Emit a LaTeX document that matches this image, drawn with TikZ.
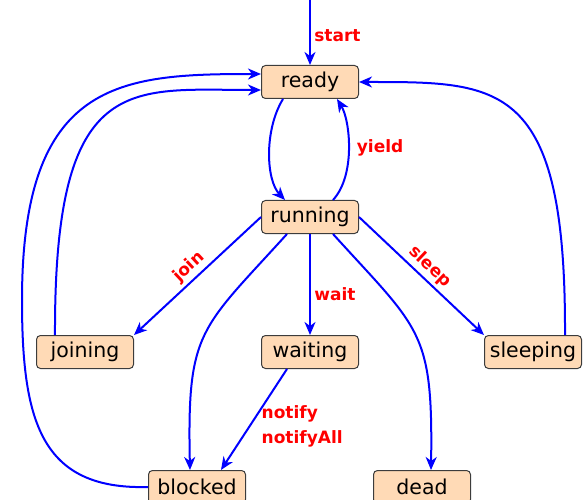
\documentclass[tikz,border=0pt]{standalone}
\usepackage{fontspec}
\setmainfont{DejaVu Sans}
\usetikzlibrary{arrows.meta,calc}
\definecolor{statefill}{RGB}{255,218,182}
\definecolor{stateline}{RGB}{60,60,60}
\tikzset{
  state/.style={draw=stateline, line width=1pt, fill=statefill, rounded corners=4pt,
    minimum width=97pt, minimum height=33pt, inner sep=0pt,
    font=\fontsize{20.5}{23}\selectfont},
  trans/.style={draw=blue, line width=2pt,
    -{Stealth[length=13pt,width=11pt,inset=4pt]}},
  lbl/.style={text=red, font=\fontsize{17}{25}\selectfont\bfseries}
}
\begin{document}
\begin{tikzpicture}[x=1pt,y=-1pt]
  \useasboundingbox (0,0) rectangle (584,500);

  % states
  \node[state] (ready)    at (310,82)  {ready};
  \node[state] (running)  at (310,217) {running};
  \node[state] (joining)  at (85,352)  {joining};
  \node[state] (waiting)  at (310,352) {waiting};
  \node[state] (sleeping) at (533,352) {sleeping};
  \node[state] (blocked)  at (197,487) {blocked};
  \node[state] (dead)     at (422,487) {dead};

  \coordinate (entry) at (310,0);

  % transitions
  \draw[trans] (entry) -- node[lbl, right, pos=0.55] {start} (ready.north);

  \draw[trans] ([xshift=-27pt]ready.south)
    .. controls (264,130) and (266,180) .. ([xshift=-25pt]running.north);

  \draw[trans] ([xshift=23pt]running.north)
    .. controls (356,175) and (350,120) .. node[lbl, right=4pt] {yield} ([xshift=27pt]ready.south);

  \draw[trans] (running.west) -- node[lbl, sloped, above] {join} (joining.north east);
  \draw[trans] (running.east) -- node[lbl, sloped, above] {sleep} (sleeping.north west);
  \draw[trans] (running.south) -- node[lbl, right, pos=0.6] {wait} (waiting.north);

  \draw[trans] ([xshift=-23pt]running.south)
    .. controls (200,330) and (187,330) .. ([xshift=-7pt]blocked.north);
  \draw[trans] ([xshift=23pt]running.south)
    .. controls (420,330) and (433,330) .. ([xshift=9pt]dead.north);

  \draw[trans] ([xshift=-23pt]waiting.south) --
    node[lbl, right=8pt, pos=0.57, align=left] {notify\\notifyAll}
    ([xshift=24pt]blocked.north);

  \draw[trans] ([xshift=32pt]sleeping.north)
    .. controls (566,80) and (500,82) .. (ready.east);

  \draw[trans] ([xshift=-30pt]joining.north)
    .. controls (54,70) and (130,90) .. ([yshift=-8pt]ready.west);

  \draw[trans] (blocked.west)
    .. controls (40,490) and (22,420) .. (22,300)
    .. controls (22,80) and (120,74) .. ([yshift=8pt]ready.west);
\end{tikzpicture}
\end{document}
